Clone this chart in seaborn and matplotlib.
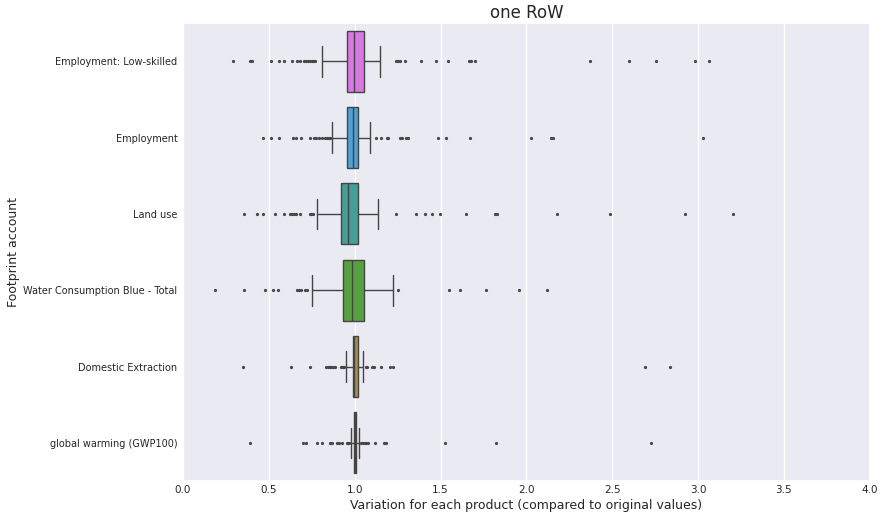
import matplotlib
matplotlib.use("Agg")
import matplotlib.pyplot as plt
import numpy as np
import pandas as pd
import seaborn as sns

# Footprint accounts, top to bottom
accounts = [
    "Employment: Low-skilled",
    "Employment",
    "Land use",
    "Water Consumption Blue - Total",
    "Domestic Extraction",
    "global warming (GWP100)",
]

# box summary: lower whisker, Q1, median, Q3, upper whisker
whisker_lo = [0.811, 0.869, 0.781, 0.751, 0.951, 0.978]
q1 = [0.955, 0.957, 0.922, 0.931, 0.988, 0.994]
median = [0.995, 0.990, 0.962, 0.984, 0.998, 1.003]
q3 = [1.052, 1.021, 1.017, 1.056, 1.018, 1.009]
whisker_hi = [1.149, 1.089, 1.135, 1.223, 1.048, 1.027]

# outlying products
outliers_low_skilled = [0.294, 0.393, 0.40, 0.514, 0.558, 0.586, 0.636, 0.663, 0.683,
                        0.702, 0.718, 0.73, 0.74, 0.75, 0.76, 0.77,
                        1.242, 1.252, 1.262, 1.293, 1.386, 1.471, 1.545, 1.664,
                        1.68, 1.699, 2.371, 2.598, 2.755, 2.985, 3.062]
outliers_employment = [0.465, 0.514, 0.558, 0.64, 0.66, 0.689, 0.741, 0.762, 0.776,
                       0.791, 0.809, 0.829, 0.84, 0.848, 0.855,
                       1.126, 1.155, 1.188, 1.196, 1.266, 1.275, 1.30, 1.31,
                       1.485, 1.53, 1.674, 2.03, 2.145, 2.155, 3.029]
outliers_land = [0.358, 0.432, 0.465, 0.537, 0.586, 0.625, 0.636, 0.646, 0.66,
                 0.679, 0.741, 0.747, 0.756,
                 1.242, 1.359, 1.407, 1.45, 1.495, 1.646, 1.815, 1.828,
                 2.181, 2.486, 2.922, 3.204]
outliers_water = [0.188, 0.354, 0.475, 0.523, 0.555, 0.663, 0.675, 0.685, 0.708,
                  0.721, 1.25, 1.549, 1.613, 1.763, 1.955, 2.123]
outliers_extraction = [0.349, 0.63, 0.737, 0.834, 0.844, 0.854, 0.864, 0.874, 0.883,
                       0.918, 0.926, 0.933, 0.94,
                       1.066, 1.071, 1.102, 1.112, 1.151, 1.207, 1.223, 2.689, 2.835]
outliers_gwp = [0.391, 0.698, 0.718, 0.78, 0.811, 0.854, 0.866, 0.896, 0.908, 0.924,
                0.958, 0.964, 0.969,
                1.038, 1.048, 1.058, 1.067, 1.077, 1.116, 1.168, 1.184,
                1.524, 1.825, 2.724]
outliers = [outliers_low_skilled, outliers_employment, outliers_land,
            outliers_water, outliers_extraction, outliers_gwp]

# build a long table whose quartiles / whiskers reproduce the summary above
rows = []
for i, name in enumerate(accounts):
    lo = [v for v in outliers[i] if v < q1[i]]
    hi = [v for v in outliers[i] if v > q3[i]]
    a, b = len(lo) + 1, len(hi) + 1
    m = 2 * (a + b) + 10
    vals = (lo + [whisker_lo[i]] + [q1[i]] * m + [median[i]] * m
            + [q3[i]] * m + [whisker_hi[i]] + hi)
    rows += [(name, v) for v in vals]
df = pd.DataFrame(rows, columns=["account", "variation"])

sns.set_theme(style="darkgrid")
palette = sns.color_palette("husl", 6)[::-1]

fig, ax = plt.subplots(figsize=(8.82, 5.15), dpi=100)
sns.boxplot(data=df, x="variation", y="account", hue="account", order=accounts,
            palette=palette, legend=False, fliersize=1.3, linewidth=1, ax=ax)

ax.set_xlim(0, 4.0)
ax.set_xticks(np.arange(0, 4.01, 0.5))
ax.tick_params(axis="x", labelsize=7.5, length=0, pad=3)
ax.tick_params(axis="y", labelsize=7, length=0, pad=4)
ax.set_xlabel("Variation for each product (compared to original values)",
              fontsize=9, labelpad=3)
ax.set_ylabel("Footprint account", fontsize=9)
ax.yaxis.set_label_coords(-0.238, 0.5)
ax.set_title("one RoW", fontsize=12, pad=4)

fig.subplots_adjust(left=0.2075, right=0.986, top=0.955, bottom=0.066)
fig.savefig("out.png", dpi=100)
